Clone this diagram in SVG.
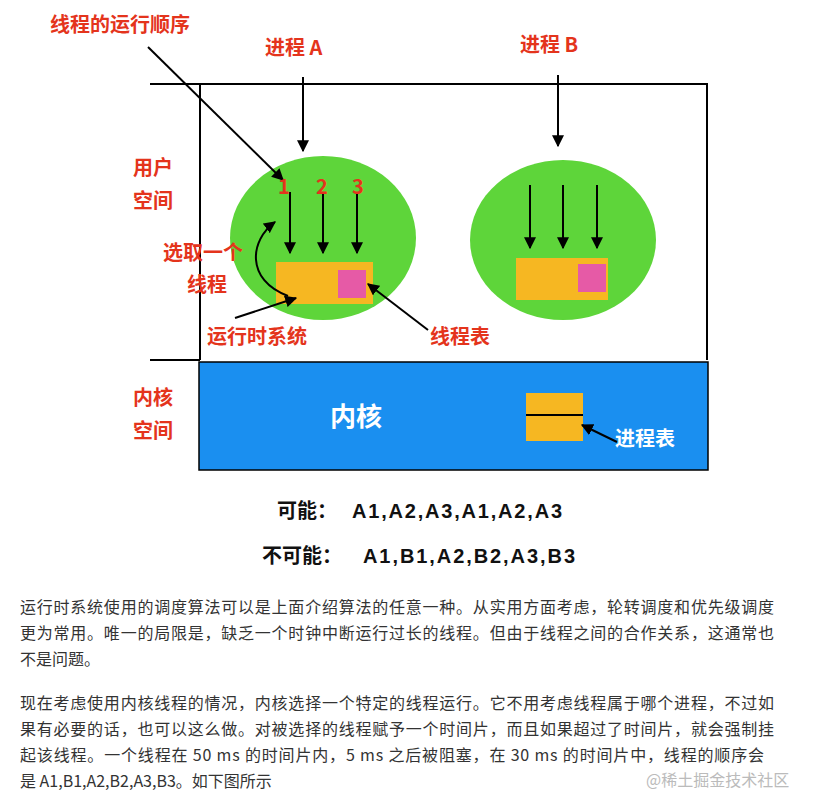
<svg xmlns="http://www.w3.org/2000/svg" width="816" height="801" viewBox="0 0 816 801">
<style>
.r{font-family:"Noto Sans CJK SC","Liberation Sans",sans-serif;fill:#e4341c;font-size:20px;font-weight:bold}
.b{font-family:"Liberation Sans","Noto Sans CJK SC",sans-serif;font-weight:bold;font-size:20px;fill:#111}
.p{font-family:"Noto Sans CJK SC","Liberation Sans",sans-serif;font-size:16px;fill:#333}
.w{font-family:"Noto Sans CJK SC",sans-serif;fill:#fff;font-weight:bold}
.ln{stroke:#000;stroke-width:2;fill:none}
.ar{stroke:#000;stroke-width:2;fill:none;marker-end:url(#m)}
.g{fill:#5ed53a}.o{fill:#f6b722}.k{fill:#e65aa6}
</style>
<defs><marker id="m" viewBox="0 0 10 10" refX="9" refY="5" markerWidth="6" markerHeight="6" orient="auto"><path d="M0,0L10,5L0,10z" fill="#000"/></marker></defs>
<rect width="816" height="801" fill="#fff"/>
<g id="frame">
<path class="ln" d="M150,84H707V360M200,84V360M150,360H200"/>
<rect x="199" y="362" width="509" height="108" fill="#1a8ff0" stroke="#000" stroke-width="1.5"/>
</g>
<g id="procA">
<ellipse class="g" cx="323" cy="238" rx="93" ry="82"/>
<rect class="o" x="276" y="262" width="97" height="42"/>
<rect class="k" x="338" y="270" width="28" height="28"/>
</g>
<g id="procB">
<ellipse class="g" cx="563" cy="240" rx="93" ry="80"/>
<rect class="o" x="516" y="258" width="92" height="42"/>
<rect class="k" x="578" y="264" width="28" height="28"/>
</g>
<g id="kernelTable">
<rect class="o" x="526" y="393" width="57" height="48"/>
<line class="ln" x1="526" y1="415" x2="583" y2="415"/>
</g>
<g id="connectors">
<line class="ar" x1="303" y1="77" x2="303" y2="151"/>
<line class="ar" x1="558" y1="75" x2="558" y2="146"/>
<line class="ar" x1="290" y1="192" x2="290" y2="253"/>
<line class="ar" x1="323" y1="192" x2="323" y2="253"/>
<line class="ar" x1="357" y1="192" x2="357" y2="253"/>
<line class="ar" x1="530" y1="185" x2="530" y2="248"/>
<line class="ar" x1="563" y1="185" x2="563" y2="248"/>
<line class="ar" x1="597" y1="185" x2="597" y2="248"/>
<line class="ar" x1="148" y1="47" x2="283" y2="180"/>
<path class="ar" d="M288,296C245,280 250,240 275,222"/>
<line class="ar" x1="235" y1="318" x2="296" y2="298"/>
<line class="ar" x1="428" y1="330" x2="368" y2="284"/>
<line class="ar" x1="617" y1="442" x2="582" y2="425"/>
</g>
<g id="labels">
<text class="r" x="50" y="32">线程的运行顺序</text>
<text class="r" x="265" y="55">进程 A</text>
<text class="r" x="520" y="52">进程 B</text>
<text class="r" x="133" y="175">用户</text>
<text class="r" x="133" y="208">空间</text>
<text class="r" x="278" y="194">1</text>
<text class="r" x="316" y="194">2</text>
<text class="r" x="352" y="194">3</text>
<text class="r" x="163" y="260">选取一个</text>
<text class="r" x="187" y="292">线程</text>
<text class="r" x="207" y="344">运行时系统</text>
<text class="r" x="430" y="344">线程表</text>
<text class="r" x="133" y="405">内核</text>
<text class="r" x="133" y="438">空间</text>
<text class="w" x="330" y="426" font-size="26">内核</text>
<text class="w" x="615" y="446" font-size="20">进程表</text>
<text class="b" x="277" y="518">可能：</text>
<text class="b" x="352" y="518" textLength="210">A1,A2,A3,A1,A2,A3</text>
<text class="b" x="262" y="563">不可能：</text>
<text class="b" x="363" y="563" textLength="212">A1,B1,A2,B2,A3,B3</text>
</g>
<g id="text">
<text class="p" x="20" y="613" textLength="754">运行时系统使用的调度算法可以是上面介绍算法的任意一种。从实用方面考虑，轮转调度和优先级调度</text>
<text class="p" x="20" y="639" textLength="754">更为常用。唯一的局限是，缺乏一个时钟中断运行过长的线程。但由于线程之间的合作关系，这通常也</text>
<text class="p" x="20" y="665">不是问题。</text>
<text class="p" x="20" y="709" textLength="754">现在考虑使用内核线程的情况，内核选择一个特定的线程运行。它不用考虑线程属于哪个进程，不过如</text>
<text class="p" x="20" y="735" textLength="754">果有必要的话，也可以这么做。对被选择的线程赋予一个时间片，而且如果超过了时间片，就会强制挂</text>
<text class="p" x="20" y="761" textLength="744">起该线程。一个线程在 50 ms 的时间片内，5 ms 之后被阻塞，在 30 ms 的时间片中，线程的顺序会</text>
<text class="p" x="20" y="787">是 A1,B1,A2,B2,A3,B3。如下图所示</text>
<text class="p" x="646" y="786" style="fill:#bbb" font-size="15">@稀土掘金技术社区</text>
</g>
</svg>
